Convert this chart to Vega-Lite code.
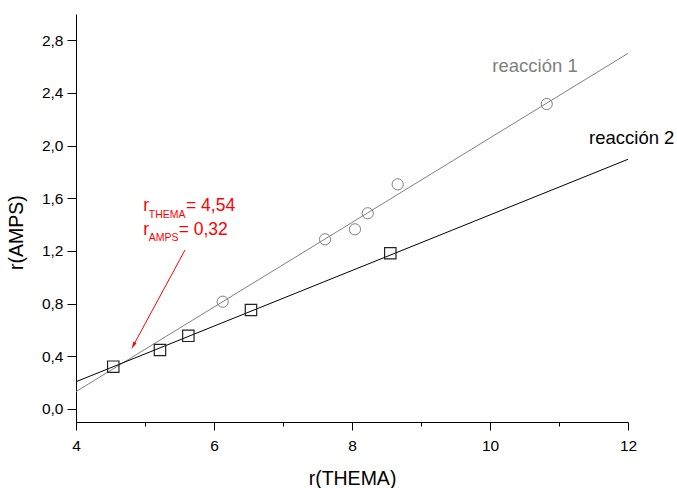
{
  "$schema": "https://vega.github.io/schema/vega-lite/v6.json",
  "width": 552,
  "height": 408,
  "autosize": {"type": "none"},
  "padding": {"left": 76, "top": 14, "right": 49, "bottom": 66},
  "background": "white",
  "config": {
    "view": {"stroke": null},
    "font": "Liberation Sans",
    "axis": {
      "grid": false,
      "domainColor": "#000000",
      "tickColor": "#000000",
      "labelColor": "#000000",
      "titleColor": "#000000",
      "labelFont": "Liberation Sans",
      "titleFont": "Liberation Sans",
      "labelFontSize": 15.5,
      "titleFontSize": 19.5,
      "titleFontWeight": "normal",
      "domainWidth": 1,
      "tickWidth": 1
    }
  },
  "datasets": {
    "fits": [
      {"series": "reacción 1", "x": 4, "y": 0.131},
      {"series": "reacción 1", "x": 12, "y": 2.701},
      {"series": "reacción 2", "x": 4, "y": 0.206},
      {"series": "reacción 2", "x": 12, "y": 1.896}
    ],
    "points": [
      {"series": "reacción 1", "x": 6.126, "y": 0.814},
      {"series": "reacción 1", "x": 7.609, "y": 1.288},
      {"series": "reacción 1", "x": 8.043, "y": 1.364},
      {"series": "reacción 1", "x": 8.228, "y": 1.486},
      {"series": "reacción 1", "x": 8.662, "y": 1.706},
      {"series": "reacción 1", "x": 10.822, "y": 2.316},
      {"series": "reacción 2", "x": 4.54, "y": 0.32},
      {"series": "reacción 2", "x": 5.217, "y": 0.447},
      {"series": "reacción 2", "x": 5.628, "y": 0.555},
      {"series": "reacción 2", "x": 6.536, "y": 0.751},
      {"series": "reacción 2", "x": 8.555, "y": 1.182}
    ],
    "labels": [
      {"series": "reacción 1", "x": 10.652, "y": 2.557, "text": "reacción 1"},
      {"series": "reacción 2", "x": 12.054, "y": 2.01, "text": "reacción 2"}
    ],
    "anno": [
      {"x": 4.975, "y": 1.503, "sub": "THEMA", "vx": 5.594, "val": "= 4,54"},
      {"x": 4.975, "y": 1.321, "sub": "AMPS", "vx": 5.488, "val": "= 0,32"}
    ],
    "arrow": [
      {"x": 5.58, "y": 1.207},
      {"x": 4.839, "y": 0.489}
    ],
    "arrowhead": [
      {"x": 4.839, "y": 0.489}
    ]
  },
  "layer": [
    {
      "data": {"name": "fits"},
      "mark": {"type": "line", "strokeWidth": 1, "clip": true},
      "encoding": {
        "x": {
          "field": "x",
          "type": "quantitative",
          "scale": {"domain": [4, 12], "nice": false, "zero": false},
          "axis": {
            "title": "r(THEMA)",
            "values": [4, 5, 6, 7, 8, 9, 10, 11, 12],
            "labelExpr": "datum.value % 2 == 0 ? format(datum.value, 'd') : ''",
            "tickSize": {"condition": {"test": "datum.value % 2 == 0", "value": 8}, "value": 4},
            "labelPadding": 8,
            "titleY": 47,
            "titleBaseline": "top",
            "labelFlush": false,
            "labelOverlap": false
          }
        },
        "y": {
          "field": "y",
          "type": "quantitative",
          "scale": {"domain": [-0.1, 3.0], "nice": false, "zero": false},
          "axis": {
            "title": "r(AMPS)",
            "values": [0, 0.2, 0.4, 0.6, 0.8, 1.0, 1.2, 1.4, 1.6, 1.8, 2.0, 2.2, 2.4, 2.6, 2.8],
            "labelExpr": "round(datum.value * 10) % 4 == 0 ? replace(format(datum.value, '.1f'), '.', ',') : ''",
            "tickSize": {"condition": {"test": "round(datum.value * 10) % 4 == 0", "value": 9}, "value": 5},
            "labelPadding": 4,
            "titleX": -50,
            "titleY": 218,
            "titleBaseline": "bottom",
            "labelFlush": false,
            "labelOverlap": false
          }
        },
        "color": {
          "field": "series",
          "type": "nominal",
          "scale": {"domain": ["reacción 1", "reacción 2"], "range": ["#808080", "#000000"]},
          "legend": null
        },
        "detail": {"field": "series"}
      }
    },
    {
      "data": {"name": "points"},
      "transform": [{"filter": "datum.series == 'reacción 1'"}],
      "mark": {"type": "point", "shape": "circle", "filled": false, "size": 125, "stroke": "#808080", "strokeWidth": 1, "opacity": 1},
      "encoding": {
        "x": {"field": "x", "type": "quantitative"},
        "y": {"field": "y", "type": "quantitative"}
      }
    },
    {
      "data": {"name": "points"},
      "transform": [{"filter": "datum.series == 'reacción 2'"}],
      "mark": {"type": "point", "shape": "square", "filled": false, "size": 130, "stroke": "#222222", "strokeWidth": 1.2, "opacity": 1},
      "encoding": {
        "x": {"field": "x", "type": "quantitative"},
        "y": {"field": "y", "type": "quantitative"}
      }
    },
    {
      "data": {"name": "labels"},
      "mark": {"type": "text", "fontSize": 18.5, "align": "center", "baseline": "alphabetic", "font": "Liberation Sans"},
      "encoding": {
        "x": {"field": "x", "type": "quantitative"},
        "y": {"field": "y", "type": "quantitative"},
        "text": {"field": "text"},
        "color": {"field": "series", "type": "nominal", "legend": null}
      }
    },
    {
      "data": {"name": "anno"},
      "mark": {"type": "text", "fontSize": 17.5, "align": "left", "baseline": "alphabetic", "color": "#ff0000", "font": "Liberation Sans"},
      "encoding": {
        "x": {"field": "x", "type": "quantitative"},
        "y": {"field": "y", "type": "quantitative"},
        "text": {"value": "r"}
      }
    },
    {
      "data": {"name": "anno"},
      "mark": {"type": "text", "fontSize": 10.5, "align": "left", "baseline": "alphabetic", "color": "#ff0000", "dx": 5.5, "dy": 6.5, "font": "Liberation Sans"},
      "encoding": {
        "x": {"field": "x", "type": "quantitative"},
        "y": {"field": "y", "type": "quantitative"},
        "text": {"field": "sub"}
      }
    },
    {
      "data": {"name": "anno"},
      "mark": {"type": "text", "fontSize": 17.5, "align": "left", "baseline": "alphabetic", "color": "#ff0000", "font": "Liberation Sans"},
      "encoding": {
        "x": {"field": "vx", "type": "quantitative"},
        "y": {"field": "y", "type": "quantitative"},
        "text": {"field": "val"}
      }
    },
    {
      "data": {"name": "arrow"},
      "mark": {"type": "line", "color": "#ff0000", "strokeWidth": 1},
      "encoding": {
        "x": {"field": "x", "type": "quantitative"},
        "y": {"field": "y", "type": "quantitative"}
      }
    },
    {
      "data": {"name": "arrowhead"},
      "mark": {"type": "point", "shape": "M0,-1.3L0.45,0.6L-0.45,0.6Z", "filled": true, "color": "#ff0000", "size": 60, "angle": 208, "opacity": 1},
      "encoding": {
        "x": {"field": "x", "type": "quantitative"},
        "y": {"field": "y", "type": "quantitative"}
      }
    }
  ]
}
